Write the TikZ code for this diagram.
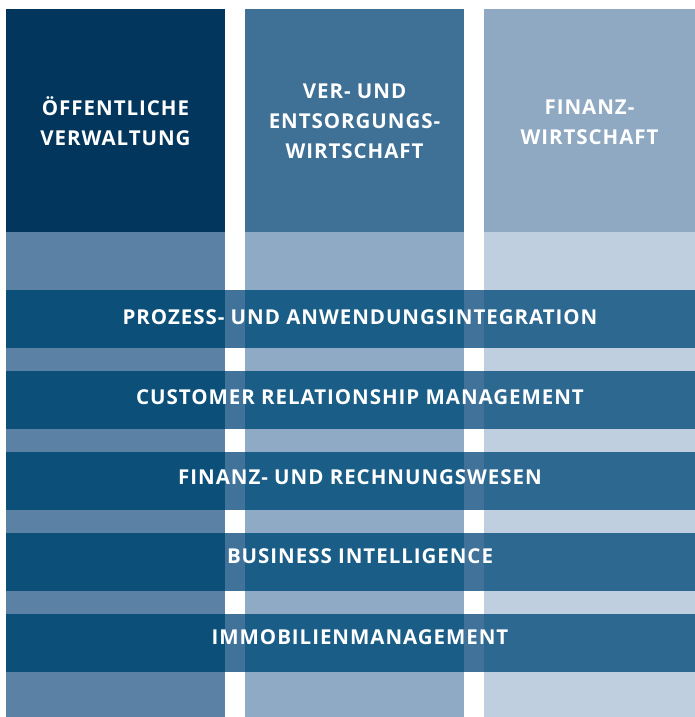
\documentclass[tikz,border=0pt]{standalone}
\usepackage{fontspec}
\setmainfont{Open Sans}[LetterSpace=4.7]
\definecolor{cA}{HTML}{03365D}
\definecolor{cB}{HTML}{3F7096}
\definecolor{cC}{HTML}{8FA9C3}
\definecolor{lA}{HTML}{5B82A4}
\definecolor{lB}{HTML}{8FAAC4}
\definecolor{lC}{HTML}{C0CFE0}
\definecolor{bA}{HTML}{0C5079}
\definecolor{bG}{HTML}{41739A}
\definecolor{bB}{HTML}{1A5E87}
\definecolor{bC}{HTML}{2D6890}
\tikzset{
  headtxt/.style={text=white,align=center,font=\bfseries\fontsize{20.5}{30}\selectfont,inner sep=0pt},
  bandtxt/.style={text=white,font=\bfseries\fontsize{20.5}{24}\selectfont,inner sep=0pt}
}
\begin{document}
\begin{tikzpicture}[x=1pt,y=1pt]
\useasboundingbox (0,0) rectangle (695,717);
\fill[white] (0,0) rectangle (695,717);
% column heads
\fill[cA] (6,485) rectangle (225,708);
\fill[cB] (245,485) rectangle (464,708);
\fill[cC] (484,485) rectangle (695,708);
% column bodies
\fill[lA] (6,0) rectangle (225,485);
\fill[lB] (245,0) rectangle (464,485);
\fill[lC] (484,0) rectangle (695,485);
% bands
\foreach \t in {290,371,452,533,614}{
  \pgfmathsetmacro{\yb}{717-\t-58}
  \pgfmathsetmacro{\yt}{717-\t}
  \fill[bA] (6,\yb) rectangle (225,\yt);
  \fill[bG] (225,\yb) rectangle (245,\yt);
  \fill[bB] (245,\yb) rectangle (464,\yt);
  \fill[bG] (464,\yb) rectangle (484,\yt);
  \fill[bC] (484,\yb) rectangle (695,\yt);
}
\node[headtxt] (h1) at (115.5,596) {ÖFFENTLICHE\\VERWALTUNG};
\node[headtxt] (h2) at (354.5,596) {VER- UND\\ENTSORGUNGS-\\WIRTSCHAFT};
\node[headtxt] (h3) at (589.5,595) {FINANZ-\\WIRTSCHAFT};
\node[bandtxt] (b1) at (360,{717-317}) {PROZESS- UND ANWENDUNGSINTEGRATION};
\node[bandtxt] (b2) at (360,{717-397}) {CUSTOMER RELATIONSHIP MANAGEMENT};
\node[bandtxt] (b3) at (360,{717-477}) {FINANZ- UND RECHNUNGSWESEN};
\node[bandtxt] (b4) at (360,{717-556.5}) {BUSINESS INTELLIGENCE};
\node[bandtxt] (b5) at (360,{717-637}) {IMMOBILIENMANAGEMENT};
\end{tikzpicture}
\end{document}
